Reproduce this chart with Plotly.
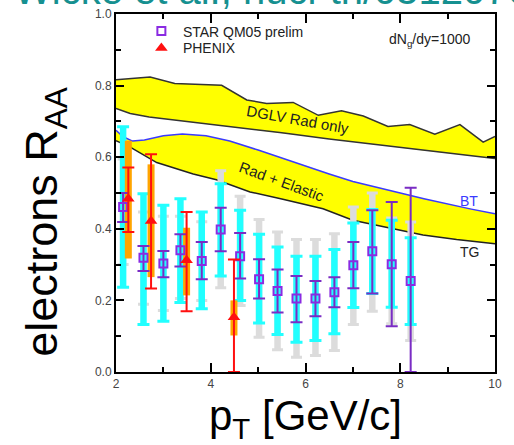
import numpy as np
import plotly.graph_objects as go

# ---------------- data ----------------
# STAR QM05 preliminary (purple squares)
star_pt = [2.15, 2.58, 3.00, 3.36, 3.81, 4.21, 4.62, 5.02, 5.41, 5.81, 6.21, 6.61, 7.01, 7.41, 7.82, 8.22]
star_raa = [0.461, 0.319, 0.303, 0.340, 0.310, 0.398, 0.323, 0.259, 0.226, 0.205, 0.205, 0.223, 0.298, 0.337, 0.301, 0.254]
star_stat_hi = [0.500, 0.352, 0.338, 0.385, 0.363, 0.459, 0.388, 0.315, 0.286, 0.268, 0.254, 0.265, 0.363, 0.452, 0.475, 0.515]
star_stat_lo = [0.419, 0.282, 0.265, 0.295, 0.259, 0.337, 0.261, 0.205, 0.166, 0.139, 0.156, 0.181, 0.234, 0.219, 0.128, 0.000]
star_sys_hi = [0.685, 0.498, 0.466, 0.484, 0.447, 0.526, 0.452, 0.385, 0.349, 0.323, 0.323, 0.342, 0.416, 0.454, 0.424, 0.375]
star_sys_lo = [0.237, 0.133, 0.142, 0.194, 0.177, 0.268, 0.200, 0.137, 0.105, 0.083, 0.088, 0.107, 0.180, 0.219, 0.181, 0.133]
star_tot_hi = [0.595, 0.447, 0.435, 0.435, 0.420, 0.562, 0.491, 0.426, 0.391, 0.370, 0.370, 0.386, 0.461, 0.500, 0.430, 0.419]
star_tot_lo = [0.300, 0.189, 0.172, 0.205, 0.200, 0.235, 0.186, 0.097, 0.062, 0.041, 0.046, 0.060, 0.133, 0.170, 0.135, 0.088]

# PHENIX (red triangles)
phx_pt = [2.26, 2.74, 3.49, 4.49]
phx_raa = [0.484, 0.422, 0.312, 0.153]
phx_stat_hi = [0.571, 0.608, 0.447, 0.314]
phx_stat_lo = [0.391, 0.233, 0.170, 0.000]
phx_sys_hi = [0.646, 0.580, 0.403, 0.200]
phx_sys_lo = [0.317, 0.265, 0.214, 0.102]

# DGLV Rad only band
dglv_up_pt = [2.0, 2.72, 3.24, 4.23, 4.76, 5.18, 5.74, 6.27, 6.76, 7.22, 7.74, 8.20, 8.73, 9.26, 9.75, 10.0]
dglv_up = [0.816, 0.824, 0.806, 0.801, 0.760, 0.750, 0.753, 0.717, 0.730, 0.715, 0.686, 0.691, 0.664, 0.691, 0.642, 0.658]
dglv_lo_pt = [2.0, 2.3, 2.7, 3.5, 4.5, 5.5, 6.5, 7.5, 8.5, 9.3, 10.0]
dglv_lo = [0.736, 0.722, 0.712, 0.700, 0.685, 0.668, 0.651, 0.635, 0.619, 0.606, 0.596]

# Rad + Elastic band: BT (upper, blue) and TG (lower, black)
bt_pt = [2.0, 2.15, 2.35, 2.6, 3.0, 3.4, 3.9, 4.4, 5.0, 5.5, 6.0, 6.5, 7.0, 7.5, 8.0, 8.5, 9.0, 9.5, 10.0]
bt = [0.675, 0.657, 0.645, 0.648, 0.660, 0.665, 0.660, 0.645, 0.620, 0.597, 0.575, 0.553, 0.532, 0.515, 0.500, 0.484, 0.469, 0.455, 0.442]
tg_pt = [2.0, 2.3, 2.86, 3.63, 4.12, 4.83, 5.5, 6.0, 6.37, 7.0, 7.7, 8.48, 9.19, 10.0]
tg = [0.646, 0.628, 0.585, 0.553, 0.537, 0.503, 0.483, 0.467, 0.456, 0.424, 0.405, 0.383, 0.370, 0.358]

x_ticks = [2, 4, 6, 8, 10]
y_ticks = [0.0, 0.2, 0.4, 0.6, 0.8, 1.0]

# ---------------- figure ----------------
FONT = "Liberation Sans, Arial, sans-serif"
YELLOW = "#ffff00"
CYAN = "#22ffff"
GREY = "#dcdcdc"
ORANGE = "#ffa500"
PURPLE = "#8a2be2"
RED = "#ff1010"

fig = go.Figure()

def band(xu, yu, xl, yl):
    xs = list(xu) + list(xl)[::-1]
    ys = list(yu) + list(yl)[::-1]
    fig.add_trace(go.Scatter(x=xs, y=ys, mode="lines", fill="toself", fillcolor=YELLOW,
                             line=dict(width=0, color=YELLOW), showlegend=False, hoverinfo="skip"))

band(dglv_up_pt, dglv_up, dglv_lo_pt, dglv_lo)
band(bt_pt, bt, tg_pt, tg)

for xs, ys, col in [(dglv_up_pt, dglv_up, "#333333"), (dglv_lo_pt, dglv_lo, "#333333"),
                    (bt_pt, bt, "#3a3aff"), (tg_pt, tg, "#222222")]:
    fig.add_trace(go.Scatter(x=xs, y=ys, mode="lines", line=dict(color=col, width=1.5),
                             showlegend=False, hoverinfo="skip"))

def bars(x, y, hi, lo, color, thick, cap):
    y = np.array(y); hi = np.array(hi); lo = np.array(lo)
    fig.add_trace(go.Scatter(
        x=x, y=y, mode="markers", marker=dict(size=1, color="rgba(0,0,0,0)"),
        error_y=dict(type="data", symmetric=False, array=hi - y, arrayminus=y - lo,
                     color=color, thickness=thick, width=cap),
        showlegend=False, hoverinfo="skip"))

# grey (total) bars
bars(star_pt, star_raa, star_tot_hi, star_tot_lo, GREY, 6.5, 0)
bars(star_pt, star_raa, star_tot_hi, star_tot_lo, GREY, 3, 5.5)
# cyan (systematic) bars
bars(star_pt, star_raa, star_sys_hi, star_sys_lo, CYAN, 6.5, 0)
bars(star_pt, star_raa, star_sys_hi, star_sys_lo, CYAN, 3, 6)
# orange PHENIX systematic
bars(phx_pt, phx_raa, phx_sys_hi, phx_sys_lo, ORANGE, 7, 0)

# STAR points with stat errors
sy = np.array(star_raa)
fig.add_trace(go.Scatter(
    x=star_pt, y=star_raa, mode="markers", name="STAR QM05 prelim", legend="legend",
    marker=dict(symbol="square-open", size=8, color=PURPLE, line=dict(width=2, color=PURPLE)),
    error_y=dict(type="data", symmetric=False, array=np.array(star_stat_hi) - sy,
                 arrayminus=sy - np.array(star_stat_lo), color="#7a2cc4", thickness=2, width=6)))

# PHENIX points
py_ = np.array(phx_raa)
fig.add_trace(go.Scatter(
    x=phx_pt, y=phx_raa, mode="markers", name="PHENIX", legend="legend2",
    marker=dict(symbol="triangle-up", size=11, color=RED),
    error_y=dict(type="data", symmetric=False, array=np.array(phx_stat_hi) - py_,
                 arrayminus=py_ - np.array(phx_stat_lo), color=RED, thickness=2, width=6)))

# curve labels
fig.add_annotation(x=5.85, y=0.705, text="DGLV Rad only", showarrow=False, textangle=10,
                   font=dict(family=FONT, size=15, color="#222222"))
fig.add_annotation(x=5.50, y=0.531, text="Rad + Elastic", showarrow=False, textangle=20,
                   font=dict(family=FONT, size=15, color="#222222"))
fig.add_annotation(x=9.45, y=0.477, text="BT", showarrow=False,
                   font=dict(family=FONT, size=14, color="#3a3aff"))
fig.add_annotation(x=9.47, y=0.335, text="TG", showarrow=False,
                   font=dict(family=FONT, size=14, color="#222222"))
fig.add_annotation(xref="paper", yref="paper", x=0.714, y=0.928, xanchor="left", yanchor="middle",
                   text="dN<sub>g</sub>/dy=1000", showarrow=False,
                   font=dict(family=FONT, size=14, color="#222222"))

# cut-off citation at the top
fig.add_annotation(xref="paper", yref="paper", x=-0.2744, y=1.0, xanchor="left", yanchor="bottom",
                   text="Wicke et al., nucl-th/0512076", showarrow=False,
                   font=dict(family=FONT, size=40, color="#169090"))

# y-axis title (placed like the reference, below the axis centre)
fig.add_annotation(xref="paper", yref="paper", x=-0.187, y=0.42, xanchor="center", yanchor="middle",
                   text="electrons R<sub>AA</sub>", showarrow=False, textangle=-90,
                   font=dict(family=FONT, size=45, color="black"))

axis_common = dict(showline=True, linecolor="black", linewidth=2, mirror="allticks",
                   ticks="inside", tickcolor="black", tickwidth=2, showgrid=False, zeroline=False,
                   automargin=False,
                   tickfont=dict(family=FONT, size=12, color="#444444"))

fig.update_xaxes(range=[2, 10], tickvals=x_ticks, ticklen=9,
                 minor=dict(dtick=1, ticklen=5, tickwidth=2, tickcolor="black", ticks="inside"),
                 title=dict(text="p<sub>T</sub> [GeV/c]", font=dict(family=FONT, size=42, color="black"),
                            standoff=21),
                 **axis_common)
fig.update_yaxes(range=[0, 1], tickvals=y_ticks, tickformat=".1f", ticklen=8,
                 minor=dict(dtick=0.1, ticklen=5, tickwidth=2, tickcolor="black", ticks="inside"),
                 **axis_common)

legend_style = dict(xanchor="left", yanchor="top", bgcolor="rgba(0,0,0,0)",
                    font=dict(family=FONT, size=14, color="#222222"), itemwidth=33)
fig.update_layout(
    width=514, height=445,
    margin=dict(l=116, r=19, t=14, b=73, autoexpand=False),
    paper_bgcolor="white", plot_bgcolor="white",
    showlegend=True,
    legend=dict(x=0.063, y=0.996, **legend_style),
    legend2=dict(x=0.063, y=0.9486, **legend_style),
)

# remove the browser's default 8px page margin so the figure sits at the window corner
fig.write_html("out.html", config={"displayModeBar": False},
               post_script="document.body.style.margin='0';")
